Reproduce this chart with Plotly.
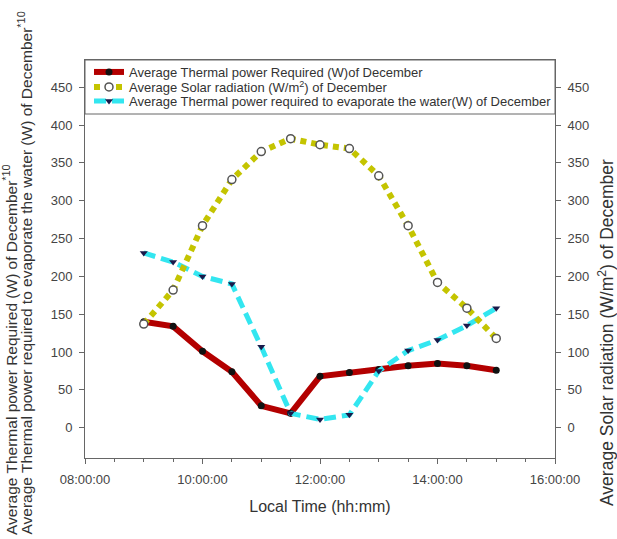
import plotly.graph_objects as go

# ---- data ----
times = ["09:00", "09:30", "10:00", "10:30", "11:00", "11:30", "12:00",
         "12:30", "13:00", "13:30", "14:00", "14:30", "15:00"]
thermal_required = [140, 134, 101, 74, 29, 19, 68, 73, 77, 82, 85, 82, 76]
solar_radiation = [137, 182, 267, 328, 365, 382, 374, 369, 333, 267, 192, 158, 118]
thermal_evaporate = [231, 219, 200, 190, 107, 19, 11, 17, 75, 102, 116, 135, 158]
y_ticks = [0, 50, 100, 150, 200, 250, 300, 350, 400, 450]

day = "2000-01-01 "
x = [day + t for t in times]

FONT = "Liberation Sans, Arial, sans-serif"
W, H = 617, 539
L, R, T, B = 85, 62, 60, 81
PW, PH = W - L - R, H - T - B


def px_x(p):
    return (p - L) / PW


def px_y(p):
    return (H - B - p) / PH


fig = go.Figure()
fig.add_trace(go.Scatter(
    x=x, y=thermal_required, mode="lines+markers",
    name="Average Thermal power Required (W)of December",
    line=dict(color="#b30000", width=6),
    marker=dict(symbol="circle", size=7, color="#111111"),
    legend="legend"))
fig.add_trace(go.Scatter(
    x=x, y=solar_radiation, mode="lines+markers", yaxis="y2",
    name="Average Solar radiation (W/m<sup>2</sup>) of December",
    line=dict(color="#c4c400", width=6, dash="6px,5px"),
    marker=dict(symbol="circle", size=8, color="white",
                line=dict(color="#555555", width=1.5)),
    legend="legend2"))
fig.add_trace(go.Scatter(
    x=x, y=thermal_evaporate, mode="lines+markers",
    name="Average Thermal power required to evaporate the water(W) of December",
    line=dict(color="#33e6f0", width=5, dash="12px,6px"),
    marker=dict(symbol="triangle-down", size=7, color="#1a1a4a"),
    legend="legend3"))

axis_common = dict(showgrid=False, zeroline=False, showline=True,
                   linecolor="#666666", linewidth=1, ticks="outside",
                   ticklen=5, tickcolor="#666666",
                   tickfont=dict(family=FONT, size=13, color="#444444"))

yr = [-40, 486]
fig.update_layout(
    width=W, height=H, margin=dict(l=L, r=R, t=T, b=B),
    paper_bgcolor="white", plot_bgcolor="white",
    font=dict(family=FONT, color="#333333"),
    xaxis=dict(type="date", range=[day + "08:00", day + "16:00"],
               tick0=day + "08:00", dtick=7200000, tickformat="%H:%M:%S",
               mirror=True,
               minor=dict(dtick=1800000, ticks="outside", ticklen=3,
                          tickcolor="#666666"),
               title=dict(text="Local Time (hh:mm)",
                          font=dict(family=FONT, size=16, color="#333333"),
                          standoff=15),
               ticklabelstandoff=4,
               **axis_common),
    yaxis=dict(range=yr, tickvals=y_ticks, ticklabelstandoff=4, **axis_common),
    yaxis2=dict(range=yr, tickvals=y_ticks, overlaying="y", side="right",
                ticklabelstandoff=4, **axis_common),
    showlegend=True,
)

leg_font = dict(family=FONT, size=13, color="#333333")
for name, ypx in [("legend", 72), ("legend2", 87), ("legend3", 101)]:
    fig.update_layout({name: dict(x=px_x(89), xanchor="left", y=px_y(ypx),
                                  yanchor="middle", bgcolor="rgba(0,0,0,0)",
                                  borderwidth=0, font=leg_font,
                                  itemwidth=30, tracegroupgap=0)})

# legend frame
fig.add_shape(type="rect", xref="paper", yref="paper",
              x0=0, x1=1, y0=px_y(114), y1=1,
              line=dict(color="#666666", width=1), fillcolor="white",
              layer="above")

# axis titles
fig.add_annotation(
    text="Average Thermal power Required (W) of December<sup>*10</sup>",
    xref="paper", yref="paper", x=px_x(9.5), y=px_y(537),
    xanchor="center", yanchor="bottom", textangle=-90, showarrow=False,
    font=dict(family=FONT, size=15.5, color="#333333"))
fig.add_annotation(
    text="Average Thermal power required to evaporate the water (W) of December<sup>*10</sup>",
    xref="paper", yref="paper", x=px_x(25), y=px_y(537),
    xanchor="center", yanchor="bottom", textangle=-90, showarrow=False,
    font=dict(family=FONT, size=15.5, color="#333333"))
fig.add_annotation(
    text="Average Solar radiation (W/m<sup>2</sup>) of December",
    xref="paper", yref="paper", x=px_x(606), y=px_y(333),
    xanchor="center", yanchor="middle", textangle=-90, showarrow=False,
    font=dict(family=FONT, size=17.5, color="#333333"))

fig.write_html("out.html")
